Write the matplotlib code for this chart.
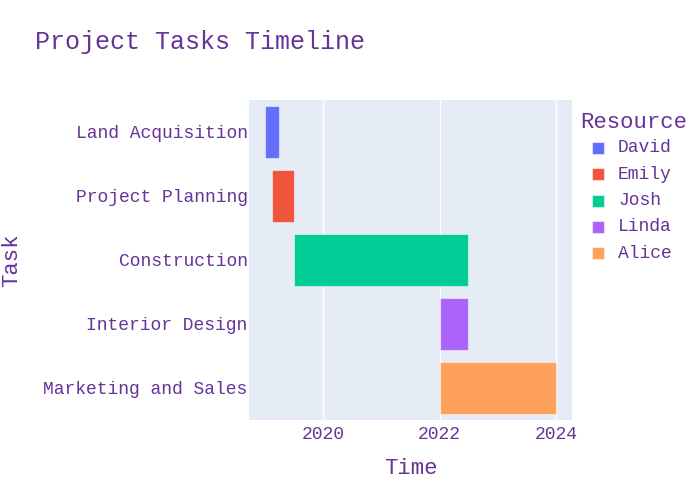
import matplotlib

matplotlib.use("Agg")

import matplotlib.dates as mdates
import matplotlib.pyplot as plt
import numpy as np
from matplotlib.patches import Rectangle

# Gantt data
TASKS = ["Land Acquisition", "Project Planning", "Construction", "Interior Design", "Marketing and Sales"]
STARTS = ["2019-01-01", "2019-02-15", "2019-07-01", "2022-01-01", "2022-01-01"]
ENDS = ["2019-03-31", "2019-06-30", "2022-06-30", "2022-06-30", "2023-12-31"]
RESOURCES = ["David", "Emily", "Josh", "Linda", "Alice"]
COLORS = ["#636efa", "#EF553B", "#00cc96", "#ab63fa", "#FFA15A"]

TEXT = "#663399"
FONT = ["Liberation Mono", "DejaVu Sans Mono"]
W, H = 700, 500

plt.rcParams["font.family"] = FONT

fig = plt.figure(figsize=(7, 5), dpi=100)
ax = fig.add_axes([249 / W, 80 / H, 323 / W, 320 / H])
ax.set_facecolor("#E5ECF6")

start_num = mdates.datestr2num(STARTS)
end_num = mdates.datestr2num(ENDS)
y_pos = np.arange(len(TASKS))

for y, s, e, color in zip(y_pos, start_num, end_num, COLORS):
    ax.barh(y, e - s, left=s, height=0.8, color=color,
            edgecolor=(1, 1, 1, 0.5), linewidth=0.8, zorder=3)

ax.set_yticks(y_pos)
ax.set_yticklabels(TASKS)
ax.set_ylim(len(TASKS) - 0.5, -0.5)

ax.set_xlim(mdates.datestr2num("2018-09-23"), mdates.datestr2num("2024-04-11"))
ax.xaxis.set_major_locator(mdates.YearLocator(2))
ax.xaxis.set_major_formatter(mdates.DateFormatter("%Y"))
ax.grid(axis="x", color="white", linewidth=1, zorder=1)
ax.set_axisbelow(True)

for side in ax.spines.values():
    side.set_visible(False)
ax.tick_params(axis="both", length=0, labelsize=13, labelcolor=TEXT)
ax.tick_params(axis="y", pad=1)
ax.tick_params(axis="x", pad=4)

fig.text(410.5 / W, 1 - 468 / H, "Time", ha="center", va="center", fontsize=16, color=TEXT)
fig.text(12 / W, 1 - 260 / H, "Task", ha="center", va="center", rotation=90, fontsize=16, color=TEXT)
fig.text(35 / W, 1 - 42 / H, "Project Tasks Timeline", ha="left", va="center", fontsize=18, color=TEXT)

# legend drawn by hand, plotly style
fig.text(580 / W, 1 - 122 / H, "Resource", ha="left", va="center", fontsize=16, color=TEXT)
for i, (name, color) in enumerate(zip(RESOURCES, COLORS)):
    yc = 148 + 26.3 * i
    fig.patches.append(Rectangle((592 / W, 1 - (yc + 6) / H), 12 / W, 12 / H,
                                 transform=fig.transFigure, facecolor=color,
                                 edgecolor=(1, 1, 1, 0.5), linewidth=0.8))
    fig.text(618 / W, 1 - yc / H, name, ha="left", va="center", fontsize=13, color=TEXT)

fig.savefig("out.png", dpi=100)
